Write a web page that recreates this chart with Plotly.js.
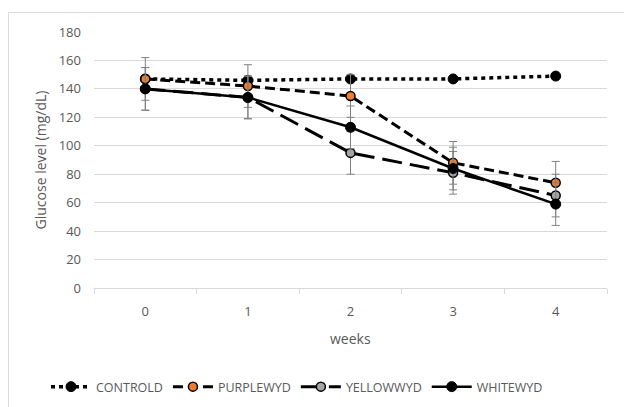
<!DOCTYPE html>
<html>
<head>
<meta charset="utf-8">
<script src="https://cdn.plot.ly/plotly-3.0.1.min.js"></script>
<style>html,body{margin:0;padding:0;background:#fff;}#chart{width:624px;height:407px;}</style>
</head>
<body>
<div id="chart"></div>
<script>
const weeks = ["0", "1", "2", "3", "4"];
const controld = [147, 146, 147, 147, 149];
const purplewyd = [147, 142, 135, 88, 74];
const yellowwyd = [140, 134, 95, 81, 65];
const whitewyd = [140, 134, 113, 84, 59];
const purpleErr = [15, 15, 15, 15, 15];
const yellowErr = [15, 15, 15, 15, 15];
const whiteErr = [15, 15, 15, 15, 15];
const yTicks = [0, 20, 40, 60, 80, 100, 120, 140, 160, 180];
const xTitle = 'weeks';
const yTitle = 'Glucose level (mg/dL)';

const errStyle = (arr) => ({type: 'data', array: arr, visible: true, color: '#808080', thickness: 1, width: 4});

const traces = [
  {name: 'CONTROLD', x: weeks, y: controld, type: 'scatter', mode: 'lines+markers',
   line: {color: '#000', width: 3.5, dash: '4px,4px'},
   marker: {color: '#000', size: 10, symbol: 'circle', line: {color: '#000', width: 1}}},
  {name: 'PURPLEWYD', x: weeks, y: purplewyd, type: 'scatter', mode: 'lines+markers',
   line: {color: '#000', width: 3, dash: '10px,5px'},
   marker: {color: '#ED7D31', size: 9, symbol: 'circle', line: {color: '#000', width: 1.5}},
   error_y: errStyle(purpleErr)},
  {name: 'YELLOWWYD', x: weeks, y: yellowwyd, type: 'scatter', mode: 'lines+markers',
   line: {color: '#000', width: 3, dash: '20px,8px'},
   marker: {color: '#A5A5A5', size: 9, symbol: 'circle', line: {color: '#000', width: 1.5}},
   error_y: errStyle(yellowErr)},
  {name: 'WHITEWYD', x: weeks, y: whitewyd, type: 'scatter', mode: 'lines+markers',
   line: {color: '#000', width: 2.5},
   marker: {color: '#000', size: 10, symbol: 'circle', line: {color: '#000', width: 1}},
   error_y: errStyle(whiteErr)}
];

const font = {family: '"Open Sans", "Liberation Sans", sans-serif', color: '#595959', size: 12};

const layout = {
  width: 624, height: 407,
  margin: {l: 94, r: 17, t: 32, b: 119},
  paper_bgcolor: '#fff', plot_bgcolor: '#fff',
  font: font,
  showlegend: true,
  legend: {orientation: 'h', xref: 'container', yref: 'container', x: 46 / 624, xanchor: 'left',
           y: 20 / 407, yanchor: 'middle',
           font: {family: font.family, color: '#595959', size: 12.5}, itemwidth: 40},
  xaxis: {type: 'category', range: [-0.5, 4.5], showgrid: false, showline: true,
          linecolor: '#d9d9d9', linewidth: 1, ticks: 'outside', tickson: 'boundaries',
          ticklen: 5, tickcolor: '#d9d9d9', tickfont: {size: 13, color: '#595959'},
          ticklabelstandoff: 11,
          zeroline: false, fixedrange: true, automargin: false},
  yaxis: {range: [0, 180], tickvals: yTicks, showgrid: true, gridcolor: '#d9d9d9',
          gridwidth: 1, showline: false, zeroline: false, ticks: '',
          tickfont: {size: 13, color: '#595959'}, ticklabelstandoff: 12,
          title: {text: yTitle, font: {size: 14, color: '#595959'}, standoff: 8},
          fixedrange: true, automargin: false},
  annotations: [{text: xTitle, xref: 'paper', yref: 'paper', x: 0.5, y: (288 - 338) / 256,
                 xanchor: 'center', yanchor: 'middle', showarrow: false,
                 font: {size: 14, color: '#595959', family: font.family}}]
};

const pw = 624 - 94 - 17, ph = 407 - 32 - 119;
layout.shapes = [{type: 'rect', xref: 'paper', yref: 'paper',
  x0: (8.5 - 94) / pw, x1: (640 - 94) / pw,
  y0: (407 - 119 - 420) / ph, y1: (407 - 119 - 12.5) / ph,
  line: {color: '#d9d9d9', width: 1}, fillcolor: 'rgba(0,0,0,0)', layer: 'below'}];

Plotly.newPlot('chart', traces, layout, {displayModeBar: false, staticPlot: true});
</script>
</body>
</html>
